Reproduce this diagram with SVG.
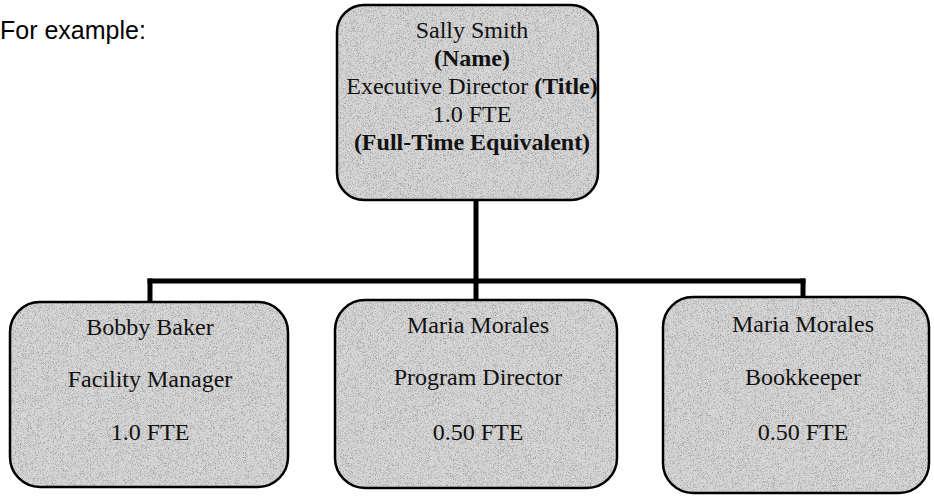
<svg xmlns="http://www.w3.org/2000/svg" width="934" height="497" viewBox="0 0 934 497">
<defs>
<filter id="grain" x="0" y="0" width="1" height="1">
<feTurbulence type="fractalNoise" baseFrequency="1.4" numOctaves="1" seed="4" result="n"/>
<feColorMatrix in="n" type="matrix" values="0 0 0 0 0.3  0 0 0 0 0.3  0 0 0 0 0.3  3 0 0 0 -1.45" result="d"/>
<feComposite in="d" in2="SourceGraphic" operator="in"/>
</filter>
</defs>
<style>
.fill{fill:#d6d6d6;stroke:none}
.grain{fill:#000;filter:url(#grain)}
.edge{fill:none;stroke:#000;stroke-width:2.5}
.t{font-family:"Liberation Serif","Times New Roman",serif;font-size:24px;fill:#111;text-anchor:middle}
.b{font-weight:bold}
.lead{font-family:"Liberation Sans",Arial,sans-serif;font-size:25px;fill:#000}
.conn{fill:none;stroke:#000;stroke-width:5;stroke-linecap:square}
</style>
<text class="lead" x="0" y="39">For example:</text>
<g id="connectors">
<path class="conn" d="M476 201 V281"/>
<path class="conn" d="M150 281 H803"/>
<path class="conn" d="M150 281 V301"/>
<path class="conn" d="M476 281 V299"/>
<path class="conn" d="M803 281 V296"/>
</g>
<g id="sally">
<rect class="fill" x="337" y="5" width="261" height="195" rx="27"/>
<rect class="grain" x="337" y="5" width="261" height="195" rx="27"/>
<rect class="edge" x="337" y="5" width="261" height="195" rx="27"/>
<text class="t" x="472" y="38">Sally Smith</text>
<text class="t b" x="472" y="66">(Name)</text>
<text class="t" x="472" y="94">Executive Director <tspan class="b">(Title)</tspan></text>
<text class="t" x="472" y="122">1.0 FTE</text>
<text class="t b" x="472" y="150">(Full-Time Equivalent)</text>
</g>
<g id="bobby">
<rect class="fill" x="10" y="302" width="278" height="185" rx="30"/>
<rect class="grain" x="10" y="302" width="278" height="185" rx="30"/>
<rect class="edge" x="10" y="302" width="278" height="185" rx="30"/>
<text class="t" x="150" y="335">Bobby Baker</text>
<text class="t" x="150" y="387">Facility Manager</text>
<text class="t" x="150" y="440">1.0 FTE</text>
</g>
<g id="maria1">
<rect class="fill" x="335" y="300" width="282" height="188" rx="30"/>
<rect class="grain" x="335" y="300" width="282" height="188" rx="30"/>
<rect class="edge" x="335" y="300" width="282" height="188" rx="30"/>
<text class="t" x="478" y="333">Maria Morales</text>
<text class="t" x="478" y="385">Program Director</text>
<text class="t" x="478" y="440">0.50 FTE</text>
</g>
<g id="maria2">
<rect class="fill" x="663" y="297" width="266" height="196" rx="30"/>
<rect class="grain" x="663" y="297" width="266" height="196" rx="30"/>
<rect class="edge" x="663" y="297" width="266" height="196" rx="30"/>
<text class="t" x="803" y="332">Maria Morales</text>
<text class="t" x="803" y="385">Bookkeeper</text>
<text class="t" x="803" y="440">0.50 FTE</text>
</g>
</svg>
